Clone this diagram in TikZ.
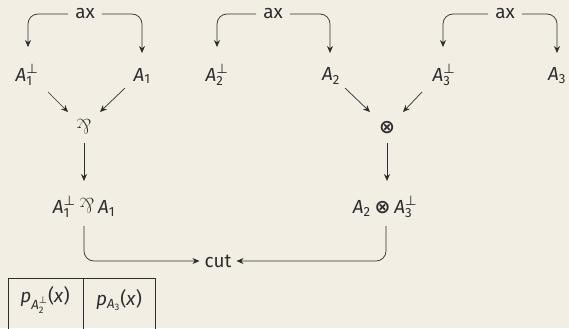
\documentclass[tikz,border=0pt]{standalone}
\usepackage{amsmath}
\usepackage{graphicx}
\usepackage{fontspec}
\setmainfont{Fira Sans}
\newfontfamily\symfont{DejaVu Sans}
\usetikzlibrary{arrows.meta}
\definecolor{bg}{RGB}{243,238,227}
\definecolor{ink}{RGB}{45,45,48}
\newcommand{\myA}[1]{\textit{A}_{\text{#1}}}
\newcommand{\myAp}[1]{\textit{A}_{\text{#1}}^{\text{\symfont ⊥}}}
\newcommand{\myparr}{\mathbin{\text{\scalebox{1.1}{\rotatebox[origin=c]{180}{\fontspec{Latin Modern Roman}\&}}}}}
\newcommand{\myotimes}{\mathbin{\text{\symfont\bfseries ⊗}}}
\begin{document}
\begin{tikzpicture}[x=1bp,y=-1bp,
  lbl/.style={inner sep=1pt, text=ink, font=\fontsize{19}{21}\selectfont},
  axl/.style={lbl, inner xsep=7pt},
  arr/.style={draw=ink, line width=0.7pt, -{Stealth[length=7pt,width=6pt]}},
  rarr/.style={arr, rounded corners=10pt}]
\fill[bg] (0,0) rectangle (569,328);
\useasboundingbox (0,0) rectangle (569,328);
\clip (0,0) rectangle (569,328);
% axioms
\node[axl] (ax1) at (85,14) {ax};
\node[axl] (ax2) at (273,14) {ax};
\node[axl] (ax3) at (505,14) {ax};
\node[lbl] (a1p) at (27,75) {$\myAp{1}$};
\node[lbl] (a1) at (142,76) {$\myA{1}$};
\node[lbl] (a2p) at (217,75) {$\myAp{2}$};
\node[lbl] (a2) at (331,76) {$\myA{2}$};
\node[lbl] (a3p) at (444,75) {$\myAp{3}$};
\node[lbl] (a3) at (557,76) {$\myA{3}$};
\coordinate (t1l) at (28,47); \coordinate (t1r) at (142,53);
\coordinate (t2l) at (217,47); \coordinate (t2r) at (330,53);
\coordinate (t3l) at (443,47); \coordinate (t3r) at (557,53);
\draw[rarr] (ax1.west) -| (t1l);
\draw[rarr] (ax1.east) -| (t1r);
\draw[rarr] (ax2.west) -| (t2l);
\draw[rarr] (ax2.east) -| (t2r);
\draw[rarr] (ax3.west) -| (t3l);
\draw[rarr] (ax3.east) -| (t3r);
% rules
\node[lbl] (par) at (84,127) {$\myparr$};
\node[lbl] (ten) at (387,128) {$\myotimes$};
\coordinate (pl) at (68,112); \coordinate (pr) at (100,112);
\coordinate (tl) at (370,112); \coordinate (tr) at (403,112);
\draw[arr] (48,92) -- (pl);
\draw[arr] (125,88) -- (pr);
\draw[arr] (345,88) -- (tl);
\draw[arr] (422,92) -- (tr);
\node[lbl] (c1) at (84,207) {$\myAp{1}\myparr\myA{1}$};
\node[lbl] (c2) at (385,207) {$\myA{2}\myotimes\myAp{3}$};
\coordinate (c1t) at (84,181); \coordinate (c2t) at (387,181);
\draw[arr] (84,143) -- (c1t);
\draw[arr] (387,143) -- (c2t);
\node[lbl] (cut) at (218,261) {cut};
\draw[rarr] (84,226) |- ([xshift=-4pt]cut.west);
\draw[rarr] (386,226) |- ([xshift=4pt]cut.east);
% table
\node[lbl, anchor=center] (p1) at (45,300) {\textit{p}$_{\myAp{2}}$(\textit{x})};
\node[lbl, anchor=center] (p2) at (119,300) {\textit{p}$_{\myA{3}}$(\textit{x})};
\draw[ink, line width=0.7pt] (8,340) |- (155,278) -- (155,340);
\draw[ink, line width=0.7pt] (83,278) -- (83,340);
\end{tikzpicture}
\end{document}
